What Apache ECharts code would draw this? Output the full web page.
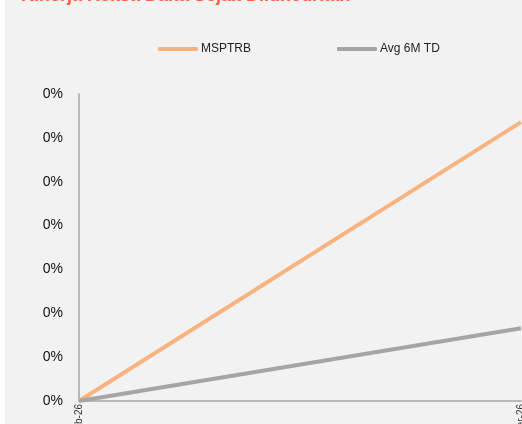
<!DOCTYPE html>
<html><head><meta charset="utf-8">
<script src="https://cdn.jsdelivr.net/npm/echarts@6/dist/echarts.min.js"></script>
<style>
html,body{margin:0;padding:0;background:#ffffff;width:522px;height:424px;overflow:hidden}
#c{position:absolute;left:5px;top:0;width:517px;height:424px;background:#f2f2f2}
</style></head>
<body><div id="c"></div>
<script>
const categories = ["Feb-26", "Mar-26"];
const msptrb = [0, 0.00318];
const avg6m = [0, 0.00083];
const seriesNames = ["MSPTRB", "Avg 6M TD"];
const titleText = "Kinerja Reksa Dana Sejak Diluncurkan";

const chart = echarts.init(document.getElementById('c'), null, {renderer: 'canvas'});
chart.setOption({
  backgroundColor: '#f2f2f2',
  animation: false,
  title: {
    text: titleText, left: 11, top: -18,
    textStyle: {color: '#ff5a3c', fontSize: 18, fontWeight: 'bold', fontFamily: 'Liberation Sans'}
  },
  legend: {
    top: 38, left: 148, itemGap: 86, itemWidth: 40, itemHeight: 4,
    icon: 'roundRect',
    textStyle: {fontSize: 12, color: '#222', fontFamily: 'Liberation Sans', padding: [0,0,0,-2]},
    data: seriesNames
  },
  grid: {left: 74, right: 1, top: 94, bottom: 23, containLabel: false, outerBoundsMode: 'none'},
  xAxis: {
    type: 'category', data: categories, boundaryGap: false,
    axisLine: {lineStyle: {color: '#a6a6a6', width: 1.5}},
    axisTick: {show: false},
    axisLabel: {rotate: 90, fontSize: 10, color: '#333', margin: 3, fontFamily: 'Liberation Sans',
      align: 'right', verticalAlign: 'middle'}
  },
  yAxis: {
    type: 'value', min: 0, max: 0.0035, interval: 0.0005,
    axisLine: {show: true, lineStyle: {color: '#a6a6a6', width: 1.5}},
    axisTick: {show: false},
    splitLine: {show: false},
    axisLabel: {fontSize: 14, color: '#111', margin: 16, fontFamily: 'Liberation Sans',
      formatter: v => (v * 100).toFixed(0) + '%'}
  },
  series: [
    {name: seriesNames[0], type: 'line', data: msptrb, symbol: 'none',
     lineStyle: {color: '#f8b380', width: 4}, itemStyle: {color: '#f8b380'}},
    {name: seriesNames[1], type: 'line', data: avg6m, symbol: 'none',
     lineStyle: {color: '#a5a5a5', width: 4}, itemStyle: {color: '#a5a5a5'}}
  ]
});
</script></body></html>
